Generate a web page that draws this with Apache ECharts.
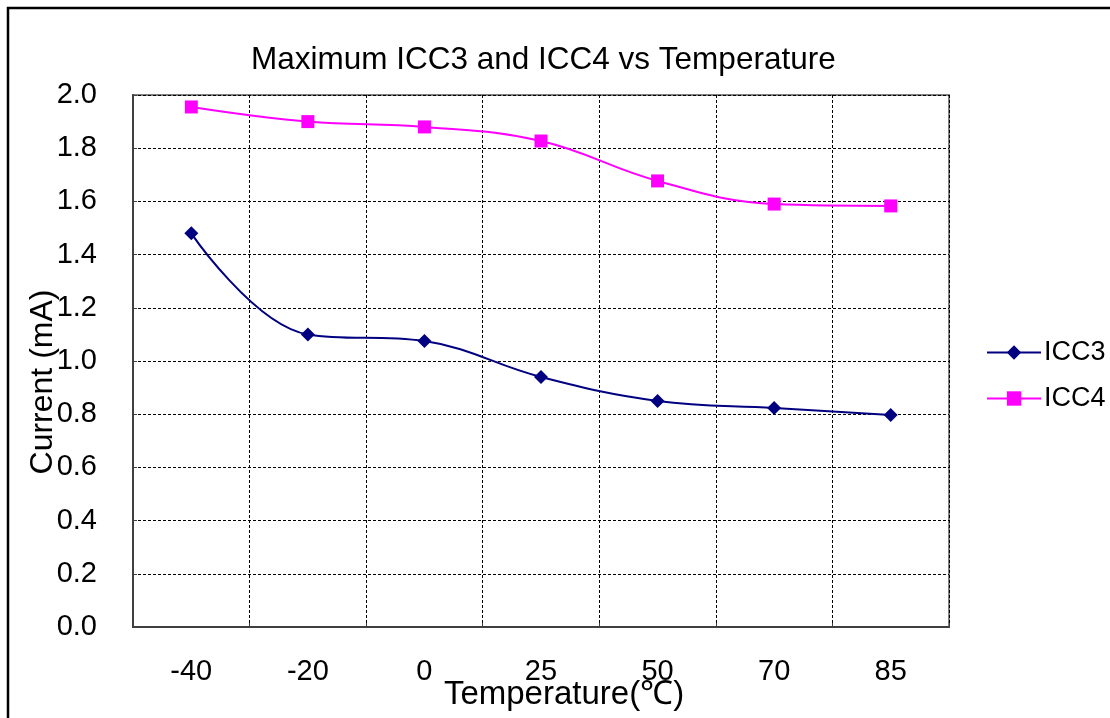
<!DOCTYPE html>
<html><head><meta charset="utf-8">
<script src="https://cdn.jsdelivr.net/npm/echarts@6/dist/echarts.min.js"></script>
<style>html,body{margin:0;padding:0;background:#fff}#c{width:1110px;height:718px}</style>
</head><body><div id="c"></div>
<script>
const categories = ['-40', '-20', '0', '25', '50', '70', '85'];
const icc3 = [1.48, 1.10, 1.075, 0.94, 0.85, 0.823, 0.797];
const icc4 = [1.955, 1.90, 1.88, 1.827, 1.677, 1.59, 1.583];
const font = '"Liberation Sans", Arial, sans-serif';
const chart = echarts.init(document.getElementById('c'));
chart.setOption({
  backgroundColor: '#fff',
  animation: false,
  graphic: [{type: 'rect', shape: {x: 8, y: 8, width: 1200, height: 1200}, style: {fill: 'none', stroke: '#000', lineWidth: 2.5}, silent: true}],
  title: {text: 'Maximum ICC3 and ICC4 vs Temperature', left: 246, top: 39,
    textStyle: {fontFamily: font, fontSize: 31.5, fontWeight: 'normal', color: '#000'}},
  grid: {left: 133, top: 95, width: 816, height: 532, show: true, borderColor: '#808080', borderWidth: 2,
    containLabel: false, outerBoundsMode: 'none'},
  legend: {orient: 'vertical', left: 986, top: 339, padding: 0, itemGap: 19, itemWidth: 54, itemHeight: 18,
    textStyle: {fontFamily: font, fontSize: 27, color: '#000', padding: [0,0,0,-2]},
    data: ['ICC3', 'ICC4']},
  xAxis: {type: 'category', data: categories, boundaryGap: true,
    name: 'Temperature(℃)', nameLocation: 'middle', nameGap: 51, nameMoveOverlap: false,
    nameTextStyle: {fontFamily: font, fontSize: 33, color: '#000', padding: [0,0,0,46]},
    axisLine: {lineStyle: {color: '#404040', width: 2}},
    axisTick: {show: true, inside: true, length: 4, lineStyle: {color: '#404040'}},
    axisLabel: {fontFamily: font, fontSize: 29, color: '#000', margin: 30},
    splitLine: {show: true, lineStyle: {color: '#000', type: [3, 2], width: 1}}},
  yAxis: {type: 'value', min: 0, max: 2, interval: 0.2,
    name: 'Current (mA)', nameLocation: 'middle', nameGap: 74, nameMoveOverlap: false,
    nameTextStyle: {fontFamily: font, fontSize: 32, color: '#000', padding: [0,42,0,0]},
    axisLine: {show: true, lineStyle: {color: '#404040', width: 2}},
    axisTick: {show: true, inside: true, length: 4, lineStyle: {color: '#404040'}},
    axisLabel: {fontFamily: font, fontSize: 29, color: '#000', margin: 36, formatter: v => v.toFixed(1)},
    splitLine: {show: true, lineStyle: {color: '#000', type: [3, 2], width: 1}}},
  series: [
    {name: 'ICC3', type: 'line', data: icc3, smooth: 0.4, symbol: 'diamond', symbolSize: 14,
      lineStyle: {color: '#000080', width: 2}, itemStyle: {color: '#000080'}},
    {name: 'ICC4', type: 'line', data: icc4, smooth: 0.4, symbol: 'rect', symbolSize: 13,
      lineStyle: {color: '#ff00ff', width: 2}, itemStyle: {color: '#ff00ff'}}
  ]
});
</script></body></html>
